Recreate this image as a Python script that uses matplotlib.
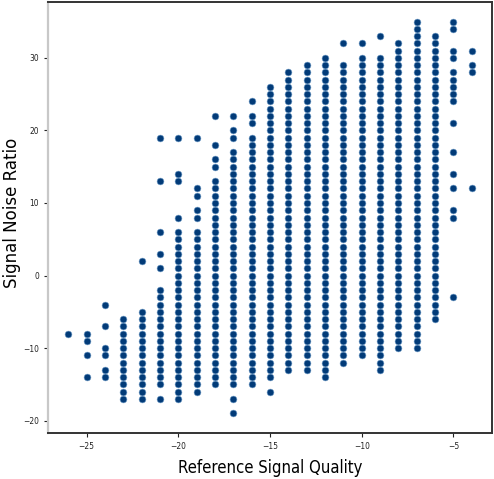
import matplotlib
matplotlib.use("Agg")
import matplotlib.pyplot as plt
from matplotlib import font_manager as fm

# Reference Signal Quality columns (x) and the Signal Noise Ratio values read in each.
# "runs" are contiguous integer stretches (top, bottom) seen in a column; "singles" are isolated dots.
rsq = [-26, -25, -24, -23, -22, -21, -20, -19, -18, -17, -16, -15,
       -14, -13, -12, -11, -10, -9, -8, -7, -6, -5, -4]
singles = {
    -26: [-8],
    -25: [-8, -9, -11, -14],
    -24: [-4, -7, -10, -11, -13, -14],
    -23: [],
    -22: [2],
    -21: [19, 13, 6, 3, 1, -17],
    -20: [19, 14, 13, 8],
    -19: [19, 12, 11, 9, 8],
    -18: [22, 18, 16, 15],
    -17: [22, 20, 19, -17, -19],
    -16: [24, 22, 21],
    -15: [-16],
    -14: [],
    -13: [],
    -12: [],
    -11: [32],
    -10: [32],
    -9: [33],
    -8: [],
    -7: [],
    -6: [],
    -5: [35, 34, 31, 30, 28, 27, 26, 25, 24, 21, 17, 14, 12, 9, 8, -3],
    -4: [31, 29, 28, 12],
}
runs = {
    -23: (-6, -17),
    -22: (-5, -17),
    -21: (-2, -15),
    -20: (6, -17),
    -19: (6, -16),
    -18: (13, -15),
    -17: (17, -15),
    -16: (19, -15),
    -15: (26, -14),
    -14: (28, -13),
    -13: (29, -13),
    -12: (30, -14),
    -11: (29, -12),
    -10: (30, -11),
    -9: (30, -13),
    -8: (32, -10),
    -7: (35, -10),
    -6: (33, -6),
}

xs, ys = [], []
for x in rsq:
    vals = list(singles.get(x, []))
    if x in runs:
        top, bot = runs[x]
        vals += list(range(bot, top + 1))
    xs += [x] * len(vals)
    ys += vals

# condensed font for the x label / tick labels, if one is installed
cond = None
for f in fm.findSystemFonts():
    name = f.split("/")[-1]
    if name in ("DejaVuSansCondensed.ttf", "LiberationSansNarrow-Regular.ttf"):
        cond = f
        if name.startswith("DejaVu"):
            break

fig = plt.figure(figsize=(4.94, 4.79), dpi=100)
ax = fig.add_axes([48 / 494, 1 - 433 / 479, 444 / 494, 431 / 479])
ax.scatter(xs, ys, s=24, c="#023b78", edgecolors="#6f9cc8", linewidths=0.4, zorder=3)

ax.set_xlim(-27.1, -2.9)
ax.set_ylim(-21.7, 37.7)
ax.set_xticks([-25, -20, -15, -10, -5])
ax.set_yticks([-20, -10, 0, 10, 20, 30])
ax.tick_params(labelsize=5.5, length=3, width=0.8, colors="#222222")

for side in ["top", "bottom", "right"]:
    ax.spines[side].set_color("#333333")
    ax.spines[side].set_linewidth(1.4)
ax.spines["left"].set_color("#c8c8c8")
ax.spines["left"].set_linewidth(1.6)

if cond:
    fp = fm.FontProperties(fname=cond, size=12)
    ax.set_xlabel("Reference Signal Quality", fontproperties=fp, labelpad=6)
    tfp = fm.FontProperties(fname=cond, size=6)
    for lab in ax.get_xticklabels() + ax.get_yticklabels():
        lab.set_fontproperties(tfp)
else:
    ax.set_xlabel("Reference Signal Quality", fontsize=10.5, labelpad=6)

ax.set_ylabel("Signal Noise Ratio", fontsize=12)
ax.yaxis.set_label_coords(-0.061, 0.51)

fig.savefig("out.png", dpi=100)
